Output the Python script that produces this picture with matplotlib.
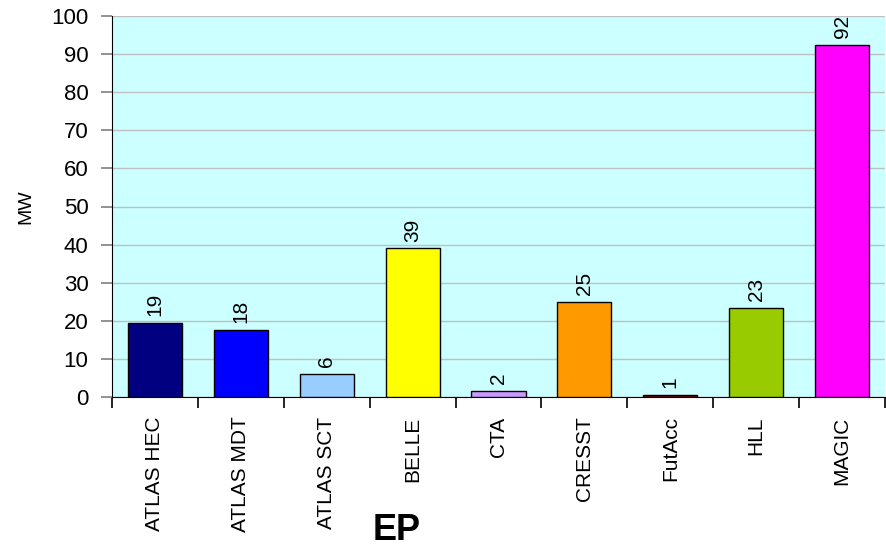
import numpy as np
import matplotlib.pyplot as plt

plt.rcParams['font.family'] = ['Liberation Sans', 'DejaVu Sans']

categories = ["ATLAS HEC", "ATLAS MDT", "ATLAS SCT", "BELLE", "CTA",
              "CRESST", "FutAcc", "HLL", "MAGIC"]
values = [19.4, 17.7, 6.1, 39.0, 1.7, 25.0, 0.6, 23.3, 92.4]
value_labels = ["19", "18", "6", "39", "2", "25", "1", "23", "92"]
colors = ["#000080", "#0000FF", "#99CCFF", "#FFFF00", "#CC99FF",
          "#FF9900", "#800000", "#99CC00", "#FF00FF"]

fig = plt.figure(figsize=(8.87, 5.49), dpi=100)
ax = fig.add_axes([112 / 887, 1 - 397 / 549, 773 / 887, 381 / 549])
ax.set_facecolor("#CCFFFF")

x = np.arange(len(categories))
ax.bar(x, values, width=0.63, color=colors, edgecolor="black", linewidth=1.0, zorder=3)

for xi, v, lab in zip(x, values, value_labels):
    ax.text(xi, v + 1.8, lab, rotation=90, ha="center", va="bottom", fontsize=15, zorder=4)

ax.set_xlim(-0.5, len(categories) - 0.5)
ax.set_ylim(0, 100)
ax.set_yticks(np.arange(0, 101, 10))
ax.yaxis.grid(True, color="#C0C0C0", linewidth=1.0, zorder=0)
ax.tick_params(axis="y", labelsize=16, length=8, width=1.2, color="#808080", pad=9)

ax.set_xticks(x)
ax.set_xticklabels(categories, rotation=90, fontsize=15)
ax.tick_params(axis="x", which="major", length=0, pad=14)
ax.set_xticks(np.arange(-0.5, len(categories), 1.0), minor=True)
ax.tick_params(axis="x", which="minor", length=8, width=1.2, color="black")

ax.spines["top"].set_visible(False)
ax.spines["right"].set_visible(False)
ax.spines["left"].set_color("black")
ax.spines["bottom"].set_color("black")

ax.set_ylabel("MW", fontsize=14, labelpad=12)
fig.text(397 / 887, 1 - 530 / 549, "EP", fontsize=26, fontweight="bold", ha="center", va="center")

fig.savefig("out.png", dpi=100)
